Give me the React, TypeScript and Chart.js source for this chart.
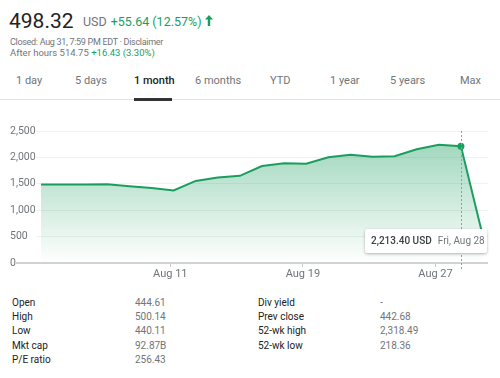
import React, { useEffect, useRef } from "react";
import { Chart, registerables } from "chart.js";

Chart.register(...registerables);

const dates = ["Aug 3", "Aug 4", "Aug 5", "Aug 6", "Aug 7", "Aug 10", "Aug 11", "Aug 12", "Aug 13", "Aug 14", "Aug 17", "Aug 18", "Aug 19", "Aug 20", "Aug 21", "Aug 24", "Aug 25", "Aug 26", "Aug 27", "Aug 28", "Aug 31"];
const closes = [1485.0, 1487.0, 1485.0, 1489.6, 1452.7, 1418.6, 1374.4, 1554.8, 1621.0, 1650.7, 1835.6, 1887.1, 1878.5, 2001.8, 2049.0, 2014.2, 2023.3, 2153.2, 2238.8, 2213.4, 498.3];
const xTickLabels = ["Aug 11", "Aug 19", "Aug 27"];
const yTicks = [0, 500, 1000, 1500, 2000, 2500];
const selectedIndex = 19;

const tabs = ["1 day", "5 days", "1 month", "6 months", "YTD", "1 year", "5 years", "Max"];
const tabX = [16, 75, 134, 195, 270, 330, 390, 460];

const statLabelsL = ["Open", "High", "Low", "Mkt cap", "P/E ratio"];
const statValuesL = ["444.61", "500.14", "440.11", "92.87B", "256.43"];
const statLabelsR = ["Div yield", "Prev close", "52-wk high", "52-wk low"];
const statValuesR = ["-", "442.68", "2,318.49", "218.36"];

const GREEN = "#1a9e5f";
const GRAY = "#70757a";
const DARK = "#222";
const FONT = "Roboto, Arial, sans-serif";

export default function App() {
  const ref = useRef<HTMLCanvasElement | null>(null);

  useEffect(() => {
    if (!ref.current) return;
    const px = 22.1;
    const extraPlugin = {
      id: "extras",
      afterDatasetsDraw(chart: any) {
        const { ctx, chartArea, scales } = chart;
        const x = scales.x;
        const y = scales.y;
        ctx.save();
        ctx.strokeStyle = "#d2d2d2";
        ctx.lineWidth = 2;
        ctx.beginPath();
        ctx.moveTo(16, y.getPixelForValue(0));
        ctx.lineTo(chartArea.right, y.getPixelForValue(0));
        ctx.stroke();
        const sx = Math.round(x.getPixelForValue(selectedIndex)) + 0.5;
        ctx.strokeStyle = "#9a9a9a";
        ctx.lineWidth = 1;
        ctx.setLineDash([2, 2]);
        ctx.beginPath();
        ctx.moveTo(sx, chartArea.top);
        ctx.lineTo(sx, chartArea.bottom + 7);
        ctx.stroke();
        ctx.restore();
      },
    };

    const chart = new Chart(ref.current, {
      type: "line",
      data: {
        datasets: [
          {
            data: closes.map((v, i) => ({ x: i, y: v })),
            borderColor: GREEN,
            borderWidth: 2,
            tension: 0,
            fill: true,
            backgroundColor: (c: any) => {
              const area = c.chart.chartArea;
              if (!area) return "rgba(26,158,95,0.2)";
              const g = c.chart.ctx.createLinearGradient(0, area.top, 0, area.bottom);
              g.addColorStop(0, "rgba(26,158,95,0.45)");
              g.addColorStop(1, "rgba(26,158,95,0)");
              return g;
            },
            pointRadius: closes.map((_, i) => (i === selectedIndex ? 3.5 : 0)),
            pointBackgroundColor: GREEN,
            pointBorderColor: GREEN,
            pointBorderWidth: 0,
          },
        ],
      },
      options: {
        animation: false,
        responsive: false,
        maintainAspectRatio: false,
        events: [],
        layout: { padding: { top: 11, right: 12, left: 10, bottom: 0 } },
        plugins: { legend: { display: false }, tooltip: { enabled: false } },
        scales: {
          x: {
            type: "linear",
            min: -5 / px,
            max: closes.length - 1 + 5 / px,
            afterBuildTicks: (scale: any) => {
              scale.ticks = xTickLabels.map((l) => ({ value: dates.indexOf(l) - 0.15 }));
            },
            afterFit: (scale: any) => {
              scale.height = 22;
            },
            ticks: {
              autoSkip: false,
              maxRotation: 0,
              padding: 1,
              color: GRAY,
              font: { family: FONT, size: 11 },
              callback: (_v: any, i: number) => xTickLabels[i],
            },
            grid: { drawOnChartArea: false, drawTicks: true, tickLength: 4, color: "#c8c8c8" },
            border: { display: false },
          },
          y: {
            min: 0,
            max: 2500,
            afterBuildTicks: (scale: any) => {
              scale.ticks = yTicks.map((v) => ({ value: v }));
            },
            afterFit: (scale: any) => {
              scale.width = 26;
            },
            ticks: {
              color: GRAY,
              crossAlign: "far",
              padding: 2,
              font: { family: FONT, size: 10.5 },
              callback: (v: any) => Number(v).toLocaleString("en-US"),
            },
            grid: {
              color: (c: any) => (c.tick && c.tick.value === 0 ? "rgba(0,0,0,0)" : "#f1f1f1"),
              drawTicks: false,
            },
            border: { display: false },
          },
        },
      } as any,
      plugins: [extraPlugin],
    });
    return () => chart.destroy();
  }, []);

  const abs = (l: number, t: number, extra: any = {}) => ({
    position: "absolute" as const,
    left: l,
    top: t,
    whiteSpace: "nowrap" as const,
    ...extra,
  });

  return (
    <div style={{ position: "fixed", left: 0, top: 0, width: 500, height: 378, background: "#fff", fontFamily: FONT, overflow: "hidden" }}>
      <div style={abs(9, 7, { fontSize: 21, color: DARK, lineHeight: "28px" })}>498.32</div>
      <div style={abs(83, 13, { fontSize: 12.5, color: GRAY, lineHeight: "18px" })}>
        USD<span style={{ color: GREEN, marginLeft: 4 }}>+55.64 (12.57%)</span>
      </div>
      <svg style={abs(205, 15)} width={8} height={11} viewBox="0 0 8 11">
        <path d="M4 0 L8 4.5 L5.2 4.5 L5.2 11 L2.8 11 L2.8 4.5 L0 4.5 Z" fill={GREEN} />
      </svg>
      <div style={abs(10, 36, { fontSize: 9, color: GRAY, lineHeight: "12px", letterSpacing: -0.3 })}>Closed: Aug 31, 7:59 PM EDT · Disclaimer</div>
      <div style={abs(10, 47, { fontSize: 9.5, color: GRAY, lineHeight: "12px" })}>
        After hours 514.75 <span style={{ color: GREEN }}>+16.43 (3.30%)</span>
      </div>
      {tabs.map((t, i) => (
        <div key={t} style={abs(tabX[i], 74, { fontSize: 11, lineHeight: "14px", color: i === 2 ? DARK : GRAY, fontWeight: i === 2 ? 500 : 400 })}>
          {t}
        </div>
      ))}
      <div style={abs(0, 99, { width: 500, height: 1, background: "#e4e4e4" })} />
      <div style={abs(134, 98, { width: 38, height: 3, background: "#333" })} />

      <canvas ref={ref} width={500} height={165} style={{ position: "absolute", left: 0, top: 120, width: 500, height: 165 }} />

      <div style={abs(365, 229, { width: 122, height: 24, background: "#fff", boxShadow: "0 1px 3px rgba(0,0,0,0.3)", borderRadius: 2, fontSize: 10, lineHeight: "24px" })}>
        <span style={{ marginLeft: 6, color: "#3c4043", fontWeight: 500 }}>2,213.40 USD</span>
        <span style={{ marginLeft: 6, color: GRAY }}>Fri, Aug 28</span>
      </div>

      {statLabelsL.map((l, i) => (
        <div key={l} style={abs(12, 296 + i * 14.2, { fontSize: 10, lineHeight: "14px", color: DARK })}>{l}</div>
      ))}
      {statValuesL.map((v, i) => (
        <div key={"vl" + i} style={abs(135, 296 + i * 14.2, { fontSize: 10, lineHeight: "14px", color: GRAY })}>{v}</div>
      ))}
      {statLabelsR.map((l, i) => (
        <div key={l} style={abs(258, 296 + i * 14.2, { fontSize: 10, lineHeight: "14px", color: DARK })}>{l}</div>
      ))}
      {statValuesR.map((v, i) => (
        <div key={"vr" + i} style={abs(380, 296 + i * 14.2, { fontSize: 10, lineHeight: "14px", color: GRAY })}>{v}</div>
      ))}
    </div>
  );
}
